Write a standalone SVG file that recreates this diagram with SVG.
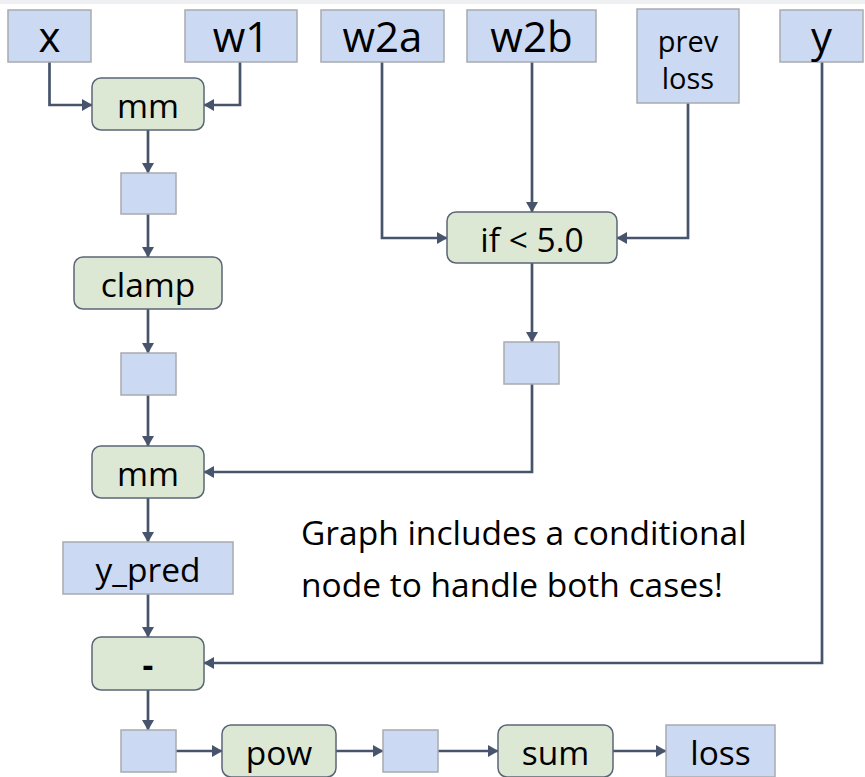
<svg xmlns="http://www.w3.org/2000/svg" width="865" height="777" viewBox="0 0 865 777">
  <defs>
    <style>
      .blue { fill: #cbd9f3; stroke: #a8abb0; stroke-width: 1.5; }
      .green { fill: #dce8d4; stroke: #5b6577; stroke-width: 1.5; }
      .lbl { font-family: "Open Sans", "Noto Sans", sans-serif; fill: #000; text-anchor: middle; }
      .big { font-size: 42px; }
      .mid { font-size: 33.5px; }
      .sm { font-size: 29px; }
      .note { font-family: "Open Sans", "Noto Sans", sans-serif; font-size: 33.5px; fill: #000; }
      .conn { fill: none; stroke: #47546c; stroke-width: 2.7; marker-end: url(#arr); }
    </style>
    <marker id="arr" markerUnits="userSpaceOnUse" markerWidth="11" markerHeight="13" refX="10" refY="6.5" orient="auto">
      <path d="M0,0.5 L10.5,6.5 L0,12.5 z" fill="#47546c"/>
    </marker>
  </defs>
  <rect x="0" y="0" width="865" height="777" fill="#ffffff"/>
  <rect x="0" y="0" width="865" height="4" fill="#eef0f2"/>

  <g id="connectors">
    <path class="conn" d="M49.5,62 V105 H92"/>
    <path class="conn" d="M240,62 V105 H204"/>
    <path class="conn" d="M148,130 V173"/>
    <path class="conn" d="M148,214 V257"/>
    <path class="conn" d="M148,309 V353"/>
    <path class="conn" d="M148,395 V446"/>
    <path class="conn" d="M148,498 V542"/>
    <path class="conn" d="M148,594 V637"/>
    <path class="conn" d="M148,690 V730"/>
    <path class="conn" d="M176,751 H222"/>
    <path class="conn" d="M336,751 H383"/>
    <path class="conn" d="M438,751 H498"/>
    <path class="conn" d="M613,751 H666"/>
    <path class="conn" d="M382,62 V238 H447"/>
    <path class="conn" d="M532,62 V212"/>
    <path class="conn" d="M688,103 V238 H617"/>
    <path class="conn" d="M532,263 V342"/>
    <path class="conn" d="M532,384 V472 H204"/>
    <path class="conn" d="M822,62 V663 H204"/>
  </g>

  <g id="node-x"><rect class="blue" x="8" y="10" width="83" height="52"/><text class="lbl big" x="49.5" y="52">x</text></g>
  <g id="node-w1"><rect class="blue" x="185" y="10" width="112" height="52"/><text class="lbl big" x="241" y="52">w1</text></g>
  <g id="node-w2a"><rect class="blue" x="321" y="10" width="123" height="52"/><text class="lbl big" x="382.5" y="52">w2a</text></g>
  <g id="node-w2b"><rect class="blue" x="467" y="10" width="129" height="52"/><text class="lbl big" x="531.5" y="52">w2b</text></g>
  <g id="node-prevloss"><rect class="blue" x="637" y="9" width="102" height="94"/><text class="lbl sm" x="688" y="52">prev</text><text class="lbl sm" x="688" y="89">loss</text></g>
  <g id="node-y"><rect class="blue" x="780" y="10" width="83" height="52"/><text class="lbl big" x="821.5" y="52">y</text></g>

  <g id="node-mm1"><rect class="green" x="92" y="78" width="112" height="52" rx="9"/><text class="lbl mid" x="148" y="118">mm</text></g>
  <g id="node-t1"><rect class="blue" x="121" y="173" width="55" height="41"/></g>
  <g id="node-clamp"><rect class="green" x="74" y="257" width="148" height="52" rx="9"/><text class="lbl mid" x="148" y="297">clamp</text></g>
  <g id="node-t2"><rect class="blue" x="121" y="353" width="55" height="42"/></g>

  <g id="node-if"><rect class="green" x="447" y="212" width="170" height="51" rx="9"/><text class="lbl mid" x="532" y="252">if &lt; 5.0</text></g>
  <g id="node-t3"><rect class="blue" x="504" y="342" width="55" height="42"/></g>

  <g id="node-mm2"><rect class="green" x="92" y="446" width="112" height="52" rx="9"/><text class="lbl mid" x="148" y="486">mm</text></g>
  <g id="node-ypred"><rect class="blue" x="63" y="542" width="170" height="52"/><text class="lbl mid" x="148" y="582">y_pred</text></g>
  <g id="node-minus"><rect class="green" x="92" y="637" width="112" height="53" rx="9"/><text class="lbl mid" x="148" y="677" font-weight="700">-</text></g>

  <g id="node-t4"><rect class="blue" x="121" y="730" width="55" height="42"/></g>
  <g id="node-pow"><rect class="green" x="222" y="725" width="114" height="52" rx="9"/><text class="lbl mid" x="279" y="765">pow</text></g>
  <g id="node-t5"><rect class="blue" x="383" y="730" width="55" height="42"/></g>
  <g id="node-sum"><rect class="green" x="498" y="725" width="115" height="52" rx="9"/><text class="lbl mid" x="555.5" y="765">sum</text></g>
  <g id="node-loss"><rect class="blue" x="666" y="725" width="109" height="52"/><text class="lbl mid" x="720.5" y="765">loss</text></g>

  <g id="note">
    <text class="note" x="301" y="545">Graph includes a conditional</text>
    <text class="note" x="301" y="597">node to handle both cases!</text>
  </g>
</svg>
